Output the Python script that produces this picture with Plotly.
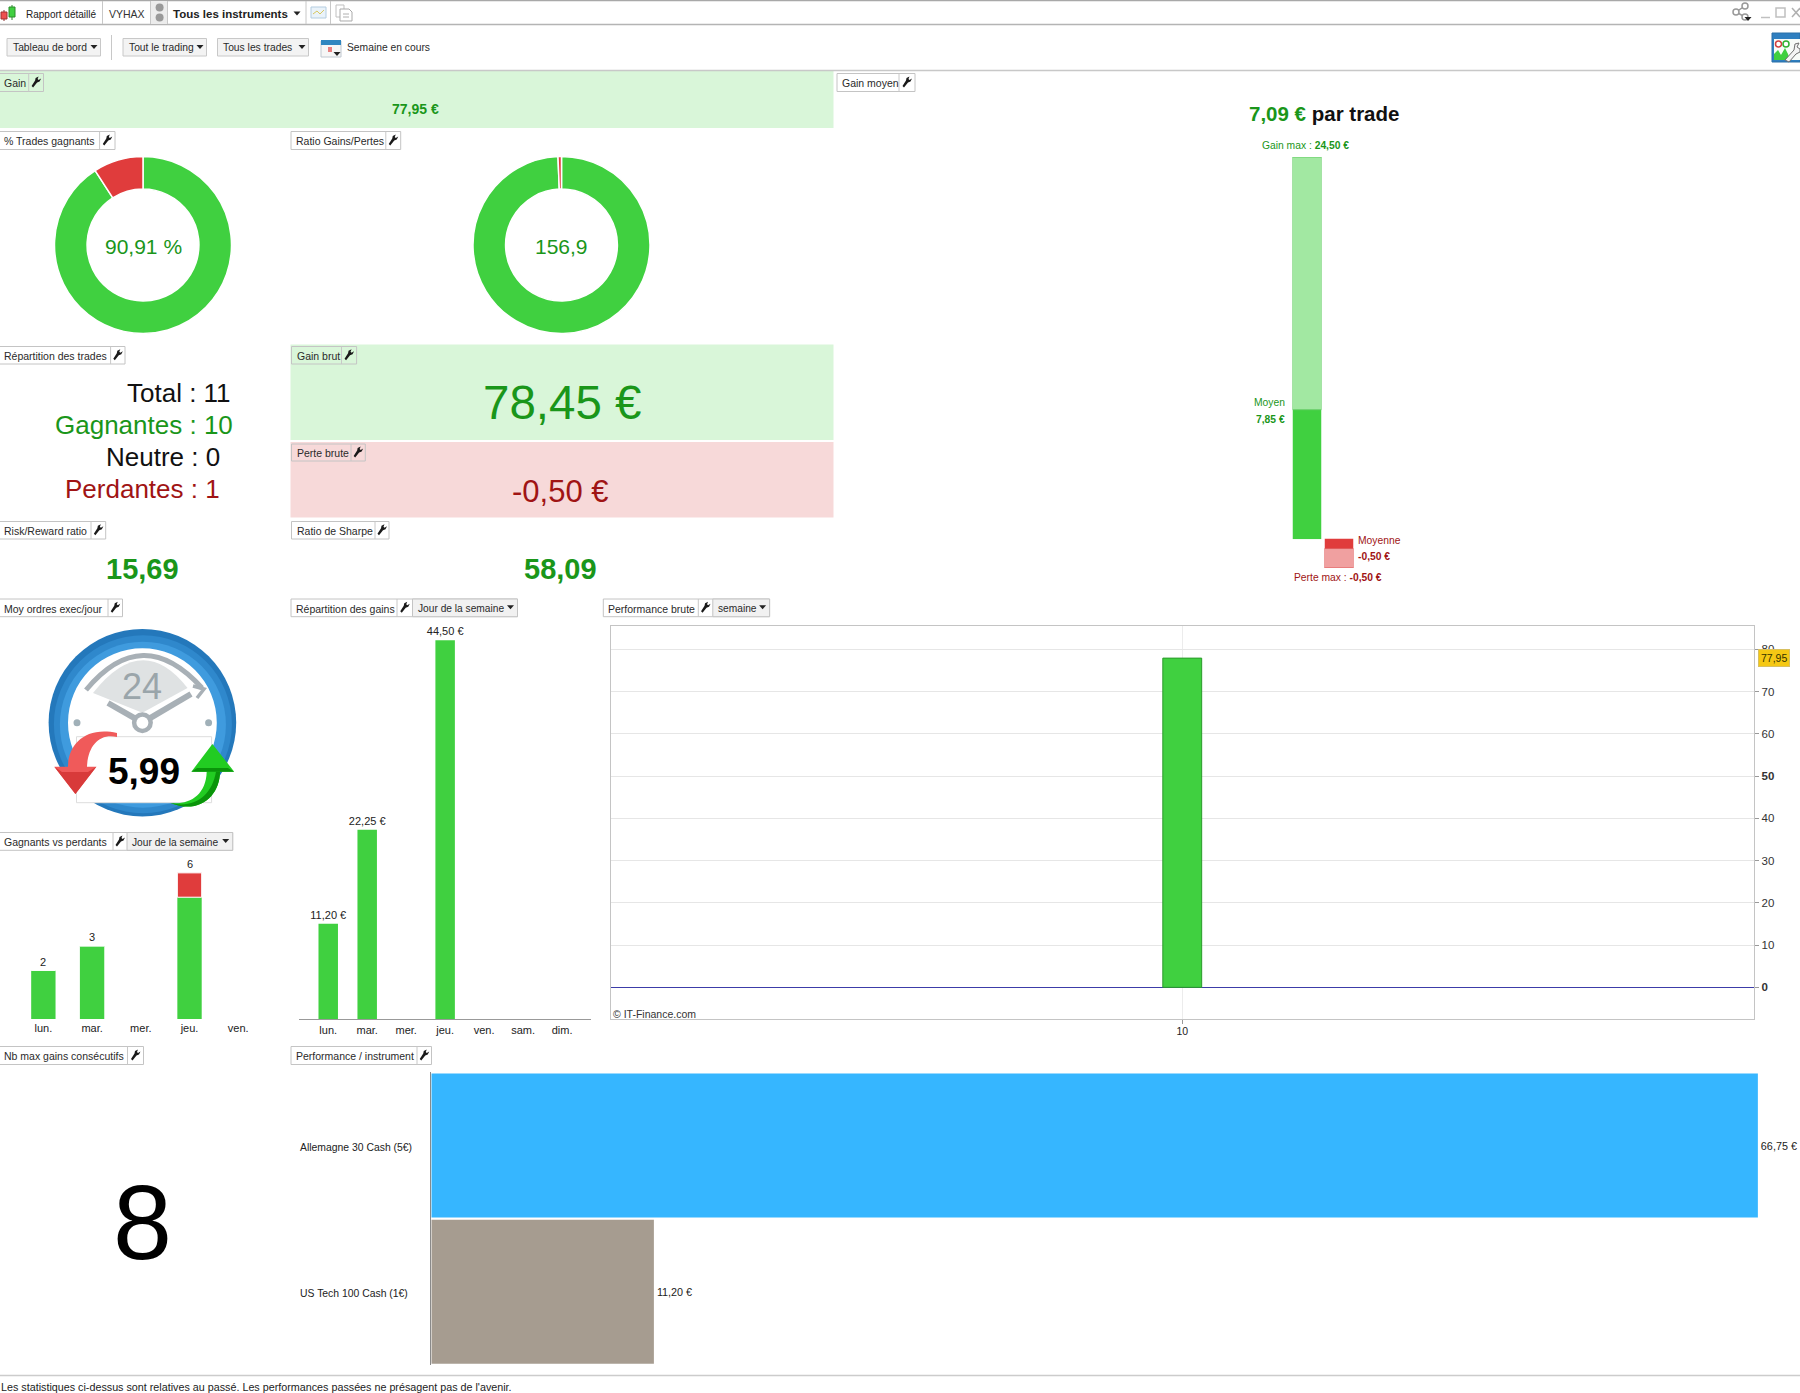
# plot.py : tableau de bord "Rapport détaillé" redessiné avec Plotly.
# Tout est posé en pixels de la page (1800x1393) puis converti en coordonnées papier.

import re
import plotly.graph_objects as go

W, H = 1800, 1393
POLICE = "Liberation Sans"

VERT = "#40d040"
VERT_CLAIR = "#a2e8a2"
ROUGE = "#e03c3c"
ROUGE_CLAIR = "#f0a0a0"
TXT_VERT = "#1a961a"
TXT_ROUGE = "#a01414"

# ------------------------------------------------------------------ données
pct_trades = [90.91, 9.09]
ratio_gains_pertes = [78.45, 0.50]

jours_semaine = ["lun.", "mar.", "mer.", "jeu.", "ven."]
nb_gagnants = [2, 3, 0, 5, 0]
nb_perdants = [0, 0, 0, 1, 0]
nb_total = [2, 3, None, 6, None]

jours_complets = ["lun.", "mar.", "mer.", "jeu.", "ven.", "sam.", "dim."]
gains_par_jour = [11.20, 22.25, 0, 44.50, 0, 0, 0]

semaines = [10]
perf_semaine = [77.95]
ticks_perf = [0, 10, 20, 30, 40, 50, 60, 70, 80]
labels_perf = ["<b>0</b>", "10", "20", "30", "40", "<b>50</b>", "60", "70", "80"]

instruments = ["Allemagne 30 Cash (5€)", "US Tech 100 Cash (1€)"]
perf_instrument = [66.75, 11.20]
couleurs_instrument = ["#36b6ff", "#a69c90"]

# barres de "Gain moyen" : hauteurs (l'original ne suit pas ses étiquettes)
gain_max = 24.50
gain_moyen_barre = 8.30
perte_max = -0.50
perte_moyenne_barre = -0.17


def euros(v):
    return f"{v:.2f}".replace(".", ",") + " €"


# ------------------------------------------------------------------ outils
def dom_x(a, b):
    return [a / W, b / W]


def dom_y(haut, bas):
    return [1 - bas / H, 1 - haut / H]


def chemin(d):
    """Chemin SVG écrit en pixels -> chemin en coordonnées papier."""
    morceaux = re.findall(r"[MLCQZ]|-?\d+\.?\d*", d)
    sortie, est_x = [], True
    for m in morceaux:
        if m in "MLCQZ":
            sortie.append(m)
            est_x = True
        elif est_x:
            sortie.append(f"{float(m) / W:.6f}")
            est_x = False
        else:
            sortie.append(f"{1 - float(m) / H:.6f}")
            est_x = True
    return " ".join(sortie)


formes = []
notes = []


def rect(x0, y0, x1, y1, fond="rgba(0,0,0,0)", trait=None, ep=1, couche="above"):
    formes.append(dict(type="rect", xref="paper", yref="paper", layer=couche,
                       x0=x0 / W, x1=x1 / W, y0=1 - y0 / H, y1=1 - y1 / H, fillcolor=fond,
                       line=dict(color=trait or "rgba(0,0,0,0)", width=ep if trait else 0)))


def rond(cx, cy, r, fond, trait=None, ep=1):
    formes.append(dict(type="circle", xref="paper", yref="paper", layer="above",
                       x0=(cx - r) / W, x1=(cx + r) / W, y0=1 - (cy + r) / H, y1=1 - (cy - r) / H,
                       fillcolor=fond,
                       line=dict(color=trait or "rgba(0,0,0,0)", width=ep if trait else 0)))


def trace_path(d, fond="rgba(0,0,0,0)", trait=None, ep=1):
    formes.append(dict(type="path", xref="paper", yref="paper", layer="above", path=chemin(d),
                       fillcolor=fond,
                       line=dict(color=trait or "rgba(0,0,0,0)", width=ep if trait else 0)))


def ligne(x0, y0, x1, y1, coul="#c8c8c8", ep=1):
    formes.append(dict(type="line", xref="paper", yref="paper", layer="above",
                       x0=x0 / W, x1=x1 / W, y0=1 - y0 / H, y1=1 - y1 / H,
                       line=dict(color=coul, width=ep)))


def texte(x, y, s, taille=10.5, coul="#222222", ancre="center"):
    notes.append(dict(xref="paper", yref="paper", x=x / W, y=1 - y / H, text=s, showarrow=False,
                      xanchor=ancre, yanchor="middle", borderpad=0,
                      font=dict(family=POLICE, size=taille, color=coul)))


def caret(cx, cy):
    trace_path(f"M {cx-3.5} {cy-2} L {cx+3.5} {cy-2} L {cx} {cy+2} Z", fond="#222222")


def clef(cx, cy):
    trace_path(f"M {cx-4.5} {cy+4} L {cx-3} {cy+5.5} L {cx+1} {cy+0.5} L {cx+3.5} {cy-0.5} "
               f"L {cx+5} {cy-3.5} L {cx+2.5} {cy-2} L {cx+1.5} {cy-3} L {cx+2.5} {cy-5.5} "
               f"L {cx-0.5} {cy-4} L {cx-1} {cy-1.5} Z", fond="#1a1a1a")


def onglet(x0, y0, x1, y1, sep, titre, liste=None, sep2=None, fond="#ffffff"):
    """Petit onglet de panneau : titre | clef | liste déroulante éventuelle."""
    rect(x0, y0, x1, y1, fond=fond, trait="#c4c4c4")
    texte(x0 + 4, (y0 + y1) / 2 + 0.7, titre, 10.5, "#2a2a2a", "left")
    ligne(sep, y0, sep, y1)
    fin_clef = sep2 if sep2 else x1
    clef((sep + fin_clef) / 2, (y0 + y1) / 2 - 0.5)
    if liste:
        rect(sep2, y0, x1, y1, fond="#f1f1f1", trait="#c4c4c4")
        texte(sep2 + 4, (y0 + y1) / 2 + 0.7, liste, 10.2, "#2a2a2a", "left")
        caret(x1 - 7, (y0 + y1) / 2 - 0.5)


def bouton(x0, x1, titre):
    rect(x0, 38.5, x1, 56, fond="#f3f3f3", trait="#c8c8c8")
    texte(x0 + 4.5, 47.5, titre, 10.3, "#2a2a2a", "left")
    caret(x1 - 6.5, 47)


# ------------------------------------------------------------------ habillage
# barre du haut
ligne(0, 0.5, W, 0.5, "#a8a8a8", 1.5)
ligne(0, 24.5, W, 24.5, "#b4b4b4", 1.5)
ligne(0, 70.5, W, 70.5, "#c8c8c8", 1.5)
ligne(4, 10, 4, 21, "#8a3030", 1)
rect(1, 12, 7, 19, fond="#ee5050", trait="#a03030")
ligne(12, 5, 12, 20, "#2a8a2a", 1)
rect(9, 7, 15, 17, fond="#40d040", trait="#2a8a2a")
texte(25, 14, "Rapport détaillé", 10, "#222222", "left")
ligne(102.5, 1, 102.5, 24)
texte(108, 14, "VYHAX", 10.5, "#333333", "left")
ligne(150.5, 1, 150.5, 24)
rect(151, 1, 167.5, 24, fond="#ececec")
rond(159.6, 7.5, 4, "#999999")
rond(159.6, 17.5, 4, "#999999")
ligne(167.5, 1, 167.5, 24)
texte(172, 14, "<b>Tous les instruments</b>", 11.5, "#222222", "left")
caret(297, 13.5)
ligne(306, 1, 306, 24)
rect(311, 7, 326, 18, fond="#eaf3fa", trait="#b4cde0")
trace_path("M 313 14 L 317 11 L 320 14 L 324 10", trait="#d8c860", ep=1)
ligne(330.5, 1, 330.5, 24)
trace_path("M 336 5 L 344 5 L 344 17 L 336 17 Z", fond="#ffffff", trait="#c0c0c0")
trace_path("M 340 9 L 349 9 L 352 12 L 352 21 L 340 21 Z", fond="#ffffff", trait="#aaaaaa")
ligne(343, 14, 349, 14, "#b0b0b0")
ligne(343, 17, 349, 17, "#b0b0b0")

# icônes à droite
trace_path("M 1745 6 L 1736 12 L 1745 17", trait="#999999", ep=1.5)
rond(1745, 6, 3, "#ffffff", "#999999", 1.5)
rond(1736, 12, 3, "#ffffff", "#999999", 1.5)
rond(1745, 17, 3, "#ffffff", "#999999", 1.5)
caret(1748, 19)
ligne(1761, 17.5, 1770, 17.5, "#c0c0c0", 1.5)
rect(1776, 8, 1785, 17, trait="#c0c0c0", ep=1.5)
ligne(1792, 8, 1800, 17, "#b0b0b0", 1.5)
ligne(1800, 8, 1792, 17, "#b0b0b0", 1.5)

# barre d'outils
bouton(7, 100.5, "Tableau de bord")
ligne(111.5, 35, 111.5, 60, "#c8c8c8")
bouton(123, 206.5, "Tout le trading")
bouton(217.5, 308.5, "Tous les trades")
rect(321, 41, 341, 57, fond="#f6f6f6", trait="#c0c8d0")
rect(321, 40, 341, 45, fond="#2f86c0")
rect(328, 47, 332, 52, fond="#e88080")
caret(337, 54)
texte(346, 47.5, "Semaine en cours", 10.3, "#2a2a2a", "left")
rect(1772, 33, 1800, 62, fond="#2f7fc0", trait="#2a70a8")
rect(1774, 39, 1800, 60, fond="#f8fbf8")
rond(1778.5, 44, 3, "#ffffff", "#d04040", 1.5)
rond(1786, 44, 3, "#ffffff", "#30b030", 1.5)
trace_path("M 1774 60 L 1774 54 L 1778 50 L 1781 55 L 1785 48 L 1788 54 L 1790 60 Z", fond="#40d040")
trace_path("M 1785 60 L 1794 50 L 1795 44 L 1799 43 L 1797 47 L 1800 49 L 1800 52 L 1796 54 L 1789 62 Z",
           fond="#f4f4f4", trait="#707070")

# panneaux de couleur
rect(0, 71, 833.5, 128, fond="#d9f6d9", couche="below")
rect(290.5, 344.5, 833.5, 440, fond="#d9f6d9", couche="below")
rect(290.5, 442, 833.5, 517.5, fond="#f7d9d9", couche="below")

# onglets
onglet(-1, 73.5, 43.5, 91.5, 28.7, "Gain", fond="#d9f6d9")
onglet(837, 73.5, 915, 91.5, 899, "Gain moyen")
onglet(-1, 131.5, 115, 149.5, 99.6, "% Trades gagnants")
onglet(291, 131.5, 400.7, 149.5, 385.8, "Ratio Gains/Pertes")
onglet(-1, 346.5, 125, 364, 110.6, "Répartition des trades")
onglet(291.5, 346.5, 356.6, 364, 341.5, "Gain brut", fond="#d9f6d9")
onglet(291.5, 444, 365.3, 461, 351, "Perte brute", fond="#f7d9d9")
onglet(-1, 521.5, 105.7, 539, 91, "Risk/Reward ratio")
onglet(291.5, 521.5, 389, 539, 375, "Ratio de Sharpe")
onglet(-1, 599, 122.5, 616.7, 108, "Moy ordres exec/jour")
onglet(291, 599, 517.5, 616.7, 397, "Répartition des gains", "Jour de la semaine", 412.5)
onglet(603.3, 599, 769.6, 616.7, 698.3, "Performance brute", "semaine", 712.8)
onglet(-1, 832.5, 232.7, 850.3, 113, "Gagnants vs perdants", "Jour de la semaine", 127)
onglet(-1, 1046.5, 143.5, 1064.5, 127.5, "Nb max gains consécutifs")
onglet(291, 1046.5, 431.5, 1064.5, 417, "Performance / instrument")

# pied de page
ligne(0, 1375.5, W, 1375.5, "#cccccc", 1.5)
texte(0, 1386.5, "Les statistiques ci-dessus sont relatives au passé. "
      "Les performances passées ne présagent pas de l'avenir.", 10.75, "#222222", "left")

# cadran "Moy ordres exec/jour"
CX, CY = 142.4, 722.7
rond(CX, CY, 93.8, "#2478bb")
rond(CX + 0.5, CY + 1.5, 89, "#2f88cc")
rond(CX + 0.5, CY + 2, 83, "#3f9bde")
rond(CX, CY, 74.4, "#ffffff")
trace_path(f"M 93 693 Q {CX} 630 187.5 688 L {CX} 712.7 Z", fond="#dfe2e3")
trace_path(f"M 86 690 Q {CX} 622 202 688", trait="#a8b0b6", ep=5)
trace_path("M 193 686 L 204 689 L 197 698", trait="#a8b0b6", ep=3.5)
trace_path(f"M {CX} {CY} L 108 703", trait="#a8b0b6", ep=6)
trace_path(f"M {CX} {CY} L 191 694", trait="#a8b0b6", ep=6)
rond(CX, CY, 10.5, "#a8b0b6")
rond(CX, CY, 6, "#ffffff")
rond(77, CY, 3.5, "#a0b0b8")
rond(208.6, CY, 3.5, "#a0b0b8")
rect(76.5, 736.7, 211.6, 802.7, fond="#ffffff", trait="#dddddd")
trace_path("M 54.3 766.7 L 68 766.7 C 68 745 85 726 117 733 L 117 737 C 100 733 88 745 87 766.7 "
           "L 96.4 766.7 L 75.4 794 Z", fond="#f05a5a")
trace_path("M 54.3 766.7 L 75.4 794 L 96.4 766.7 L 88 772 L 62 772 Z", fond="#d83a3a")
trace_path("M 212.4 744 L 234.2 771.7 L 220 771.7 C 220 795 200 815 170.3 803 "
           "C 190 805 206 795 206.7 771.7 L 191.4 771.7 Z", fond="#22cc22")
trace_path("M 191.4 771.7 L 234.2 771.7 L 228 768 L 197 768 Z", fond="#0a940a")
trace_path("M 220 771.7 C 220 795 200 815 170.3 803 C 195 809 212 795 216 771.7 Z", fond="#0a940a")

# ------------------------------------------------------------------ textes
texte(415.5, 109, f"<b>{euros(77.95)}</b>", 14, TXT_VERT)
notes.append(dict(xref="paper", yref="paper", x=1323.5 / W, y=1 - 113 / H, showarrow=False,
                  text=f"<span style='color:{TXT_VERT}'><b>{euros(7.09)}</b></span> <b>par trade</b>",
                  font=dict(family=POLICE, size=20.5, color="#111111"),
                  xanchor="center", yanchor="middle"))
texte(1305.6, 145, f"Gain max : <b>{euros(gain_max)}</b>", 10.3, TXT_VERT)
texte(1286, 402.3, "Moyen", 10.3, TXT_VERT, "right")
texte(1286, 419, f"<b>{euros(7.85)}</b>", 10.3, TXT_VERT, "right")
texte(1357.3, 540.6, "Moyenne", 10.3, TXT_ROUGE, "left")
texte(1357.3, 556.8, f"<b>{euros(-0.50)}</b>", 10.3, TXT_ROUGE, "left")
texte(1338, 577, f"Perte max : <b>{euros(perte_max)}</b>", 10.3, TXT_ROUGE)

texte(143, 246, "90,91 %", 21, TXT_VERT)
texte(561.7, 246, "156,9", 21, TXT_VERT)

texte(125.7, 393, "Total : 11", 26, "#111111", "left")
texte(54, 425, "Gagnantes : 10", 26, TXT_VERT, "left")
texte(104.6, 457, "Neutre : 0", 26, "#111111", "left")
texte(64, 489.3, "Perdantes : 1", 26, TXT_ROUGE, "left")

texte(561.5, 403, euros(78.45), 47.5, TXT_VERT)
texte(560, 491.5, euros(-0.50), 31, TXT_ROUGE)
texte(142.3, 569, "<b>15,69</b>", 29, TXT_VERT)
texte(560.4, 569, "<b>58,09</b>", 29, TXT_VERT)
texte(142.4, 686, "24", 36, "#9aa5aa")
texte(143.5, 771, "<b>5,99</b>", 37, "#000000")
texte(142.4, 1222, "8", 106, "#000000")
texte(612, 1013.5, "© IT-Finance.com", 10.5, "#333333", "left")

# ------------------------------------------------------------------ graphiques
fig = go.Figure()

# anneaux
fig.add_trace(go.Pie(values=pct_trades, sort=False, direction="clockwise", hole=0.632,
                     textinfo="none", showlegend=False,
                     marker=dict(colors=[VERT, ROUGE], line=dict(color="#ffffff", width=1.5)),
                     domain=dict(x=dom_x(54.5, 231.5), y=dom_y(156.5, 333.5))))
fig.add_trace(go.Pie(values=ratio_gains_pertes, sort=False, direction="clockwise", hole=0.632,
                     textinfo="none", showlegend=False,
                     marker=dict(colors=[VERT, ROUGE], line=dict(color="#ffffff", width=1.5)),
                     domain=dict(x=dom_x(473, 650), y=dom_y(156.5, 333.5))))

# gain moyen (barre verte) et perte (barre rouge), chacune son échelle
fig.add_trace(go.Bar(x=["gain"], y=[gain_moyen_barre], width=1, marker=dict(color=VERT, line_width=0),
                     xaxis="x", yaxis="y"))
fig.add_trace(go.Bar(x=["gain"], y=[gain_max - gain_moyen_barre], width=1,
                     marker=dict(color=VERT_CLAIR, line=dict(color="#62cc62", width=1)),
                     xaxis="x", yaxis="y"))
fig.add_trace(go.Bar(x=["perte"], y=[perte_moyenne_barre], width=1, marker=dict(color=ROUGE, line_width=0),
                     xaxis="x2", yaxis="y2"))
fig.add_trace(go.Bar(x=["perte"], y=[perte_max - perte_moyenne_barre], width=1,
                     marker=dict(color=ROUGE_CLAIR, line=dict(color="#e05a5a", width=1)),
                     xaxis="x2", yaxis="y2"))

# gagnants vs perdants
fig.add_trace(go.Bar(x=jours_semaine, y=nb_gagnants, width=0.5, marker=dict(color=VERT, line_width=0),
                     xaxis="x3", yaxis="y3"))
fig.add_trace(go.Bar(x=jours_semaine, y=nb_perdants, width=0.5,
                     marker=dict(color=ROUGE, line=dict(color="#ffffff", width=1)),
                     xaxis="x3", yaxis="y3"))
for jour, total in zip(jours_semaine, nb_total):
    if total is not None:
        notes.append(dict(xref="x3", yref="y3", x=jour, y=total, text=str(total), showarrow=False,
                          xanchor="center", yanchor="bottom", yshift=1.5, borderpad=0,
                          font=dict(family=POLICE, size=11, color="#222222")))

# répartition des gains
fig.add_trace(go.Bar(x=jours_complets, y=gains_par_jour, width=0.5, marker=dict(color=VERT, line_width=0),
                     text=[euros(v) if v else "" for v in gains_par_jour], textposition="outside",
                     cliponaxis=False, constraintext="none",
                     textfont=dict(family=POLICE, size=11, color="#222222"),
                     xaxis="x4", yaxis="y4"))

# performance brute
fig.add_trace(go.Bar(x=semaines, y=perf_semaine, width=0.034,
                     marker=dict(color=VERT, line=dict(color="#2a9a2a", width=1)),
                     xaxis="x5", yaxis="y5"))

# performance / instrument
fig.add_trace(go.Bar(y=instruments, x=perf_instrument, orientation="h", width=0.985,
                     marker=dict(color=couleurs_instrument, line_width=0),
                     text=[euros(v) for v in perf_instrument], textposition="outside",
                     cliponaxis=False, textangle=0, constraintext="none",
                     textfont=dict(family=POLICE, size=10.8, color="#222222"),
                     xaxis="x6", yaxis="y6"))
for nom in instruments:
    notes.append(dict(xref="paper", yref="y6", x=298.7 / W, y=nom, text=nom, showarrow=False,
                      xanchor="left", yanchor="middle", yshift=-1.5, borderpad=0,
                      font=dict(family=POLICE, size=10.4, color="#222222")))

# étiquette jaune de la dernière valeur
notes.append(dict(xref="paper", yref="y5", x=1773.5 / W, y=perf_semaine[0],
                  text=str(perf_semaine[0]).replace(".", ","), showarrow=False,
                  xanchor="center", yanchor="middle", bgcolor="#f5c814", bordercolor="#d8c060",
                  borderwidth=1, borderpad=2, font=dict(family=POLICE, size=10.5, color="#333300")))

caches = dict(visible=False, fixedrange=True)
axe_jour = dict(showgrid=False, zeroline=False, ticks="", ticklabelstandoff=1,
                tickfont=dict(family=POLICE, size=11, color="#222222"))

fig.update_layout(
    width=W, height=H, margin=dict(l=0, r=0, t=0, b=0, pad=0),
    paper_bgcolor="#ffffff", plot_bgcolor="rgba(0,0,0,0)",
    barmode="relative", showlegend=False, hovermode=False,
    font=dict(family=POLICE, size=11),
    shapes=formes, annotations=notes,

    xaxis=dict(domain=dom_x(1292.5, 1321.5), anchor="y", **caches),
    yaxis=dict(domain=dom_y(157, 539.2), anchor="x", range=[0, gain_max], **caches),
    xaxis2=dict(domain=dom_x(1324.5, 1353.5), anchor="y2", **caches),
    yaxis2=dict(domain=dom_y(538.5, 568), anchor="x2", range=[perte_max, 0], **caches),

    xaxis3=dict(domain=dom_x(19, 262.6), anchor="y3", range=[-0.5, 4.5], **axe_jour),
    yaxis3=dict(domain=dom_y(848.5, 1019), anchor="x3", range=[0, 7], **caches),

    xaxis4=dict(domain=dom_x(299, 590.5), anchor="y4", range=[-0.75, 6.73], showline=True,
                linecolor="#999999", linewidth=1, **axe_jour),
    yaxis4=dict(domain=dom_y(619, 1019), anchor="x4", range=[0, 47], **caches),

    xaxis5=dict(domain=dom_x(610.8, 1753.7), anchor="y5", range=[9.5, 10.5], tickvals=semaines,
                showline=True, mirror=True, linecolor="#c4c4c4", linewidth=1,
                showgrid=True, gridcolor="#ececec", zeroline=False, ticks="outside", ticklen=4,
                ticklabelstandoff=-2,
                tickcolor="#999999", tickfont=dict(family=POLICE, size=10.5, color="#222222")),
    yaxis5=dict(domain=dom_y(625.8, 1019.3), anchor="x5", side="right", range=[-7.57, 85.6],
                tickvals=ticks_perf, ticktext=labels_perf, showline=True, mirror=True,
                linecolor="#c4c4c4", linewidth=1, showgrid=True, gridcolor="#e6e6e6",
                zeroline=True, zerolinecolor="#3c3ca8", zerolinewidth=1,
                ticks="outside", ticklen=4.5, tickcolor="#999999",
                tickfont=dict(family=POLICE, size=11.5, color="#333333")),

    xaxis6=dict(domain=dom_x(431.3, 1800), anchor="y6", range=[0, 68.87], **caches),
    yaxis6=dict(domain=dom_y(1072.4, 1364.8), anchor="x6", range=[1.5, -0.5], type="category",
                categoryorder="array", categoryarray=instruments, showticklabels=False,
                showline=True, linecolor="#8a8a8a", linewidth=1, ticks="", showgrid=False,
                zeroline=False),
)

fig.write_html("out.html", config={"displayModeBar": False},
               post_script="document.body.style.margin='0';")
